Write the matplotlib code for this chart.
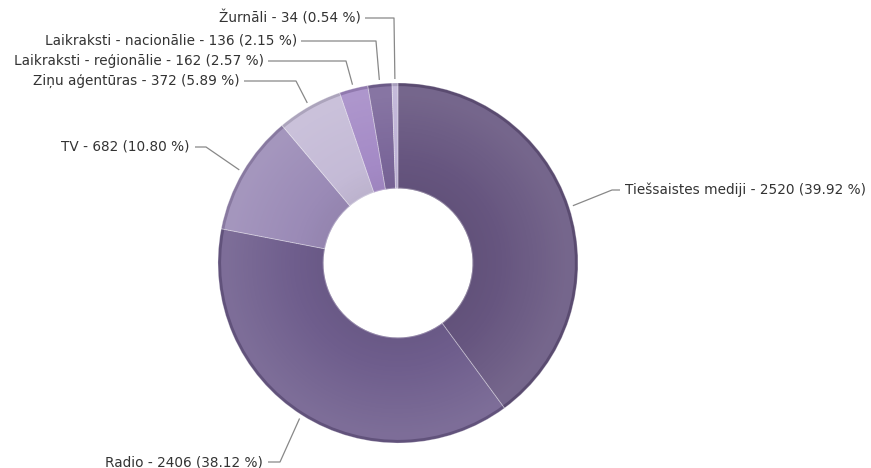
import numpy as np
import matplotlib
matplotlib.use("Agg")
import matplotlib.pyplot as plt
from matplotlib.colors import to_rgb

categories = ["Tiešsaistes mediji", "Radio", "TV", "Ziņu aģentūras",
              "Laikraksti - reģionālie", "Laikraksti - nacionālie", "Žurnāli"]
values = [2520, 2406, 682, 372, 162, 136, 34]
colors = ["#66557f", "#6e5d8c", "#9a8ab6", "#c4bad6", "#a48ac6", "#7a6699", "#beb2d6"]

W, H = 871, 468
fig = plt.figure(figsize=(W / 100, H / 100), dpi=100)
ax = fig.add_axes([0, 0, 1, 1])

cx, cy = 398, H - 263
r_out, r_in = 180, 75

def shade(c, f):
    c = np.array(to_rgb(c))
    if f >= 0:
        return tuple(c + (1 - c) * f)
    return tuple(c * (1 + f))

def profile(t):
    # t: 0 inner edge, 1 outer edge
    if t > 0.985:
        return -0.12
    if t > 0.9:
        return 0.10
    return -0.04 + 0.14 * t / 0.9

n = 50
edges = np.linspace(r_in, r_out, n + 1)
for i in range(n):
    r1, r2 = edges[i], edges[i + 1]
    t = (i + 0.5) / n
    f = profile(t)
    cols = [shade(c, f) for c in colors]
    ax.pie(values, colors=cols, startangle=90, counterclock=False,
           radius=r2 + (0.5 if i < n - 1 else 0), center=(cx, cy), frame=True,
           wedgeprops=dict(width=(r2 - r1) + 1.0, linewidth=0))
# thin separators
ax.pie(values, colors=["none"] * len(values), startangle=90, counterclock=False,
       radius=r_out, center=(cx, cy), frame=True,
       wedgeprops=dict(width=r_out - r_in, linewidth=0.6, edgecolor=(1, 1, 1, 0.3)))

ax.set_xlim(0, W)
ax.set_ylim(0, H)
ax.set_aspect("equal")
ax.axis("off")

total = sum(values)
layout = {
    "Tiešsaistes mediji": dict(tx=625, ty=190, ha="left", elbow=[(612, 190), (620, 190)]),
    "Radio": dict(tx=263, ty=462, ha="right", elbow=[(280, 462), (268, 462)]),
    "TV": dict(tx=189, ty=147, ha="right", elbow=[(206, 147), (195, 147)]),
    "Ziņu aģentūras": dict(tx=240, ty=81, ha="right", elbow=[(296, 81), (244, 81)]),
    "Laikraksti - reģionālie": dict(tx=264, ty=61, ha="right", elbow=[(346, 61), (268, 61)]),
    "Laikraksti - nacionālie": dict(tx=297, ty=41, ha="right", elbow=[(376, 41), (301, 41)]),
    "Žurnāli": dict(tx=361, ty=18, ha="right", elbow=[(394, 18), (365, 18)]),
}

start = 90.0
for cat, v in zip(categories, values):
    span = 360.0 * v / total
    mid = np.deg2rad(start - span / 2)
    start -= span
    px = cx + (r_out + 4) * np.cos(mid)
    py = cy + (r_out + 4) * np.sin(mid)
    L = layout[cat]
    xs = [px] + [e[0] for e in L["elbow"]]
    ys = [py] + [H - e[1] for e in L["elbow"]]
    ax.plot(xs, ys, color="#888888", lw=0.9, solid_capstyle="butt")
    label = f"{cat} - {v} ({100 * v / total:.2f} %)"
    ax.text(L["tx"], H - L["ty"], label, ha=L["ha"], va="center",
            fontsize=9.8, color="#333333", family="DejaVu Sans")

fig.savefig("out.png", dpi=100)
